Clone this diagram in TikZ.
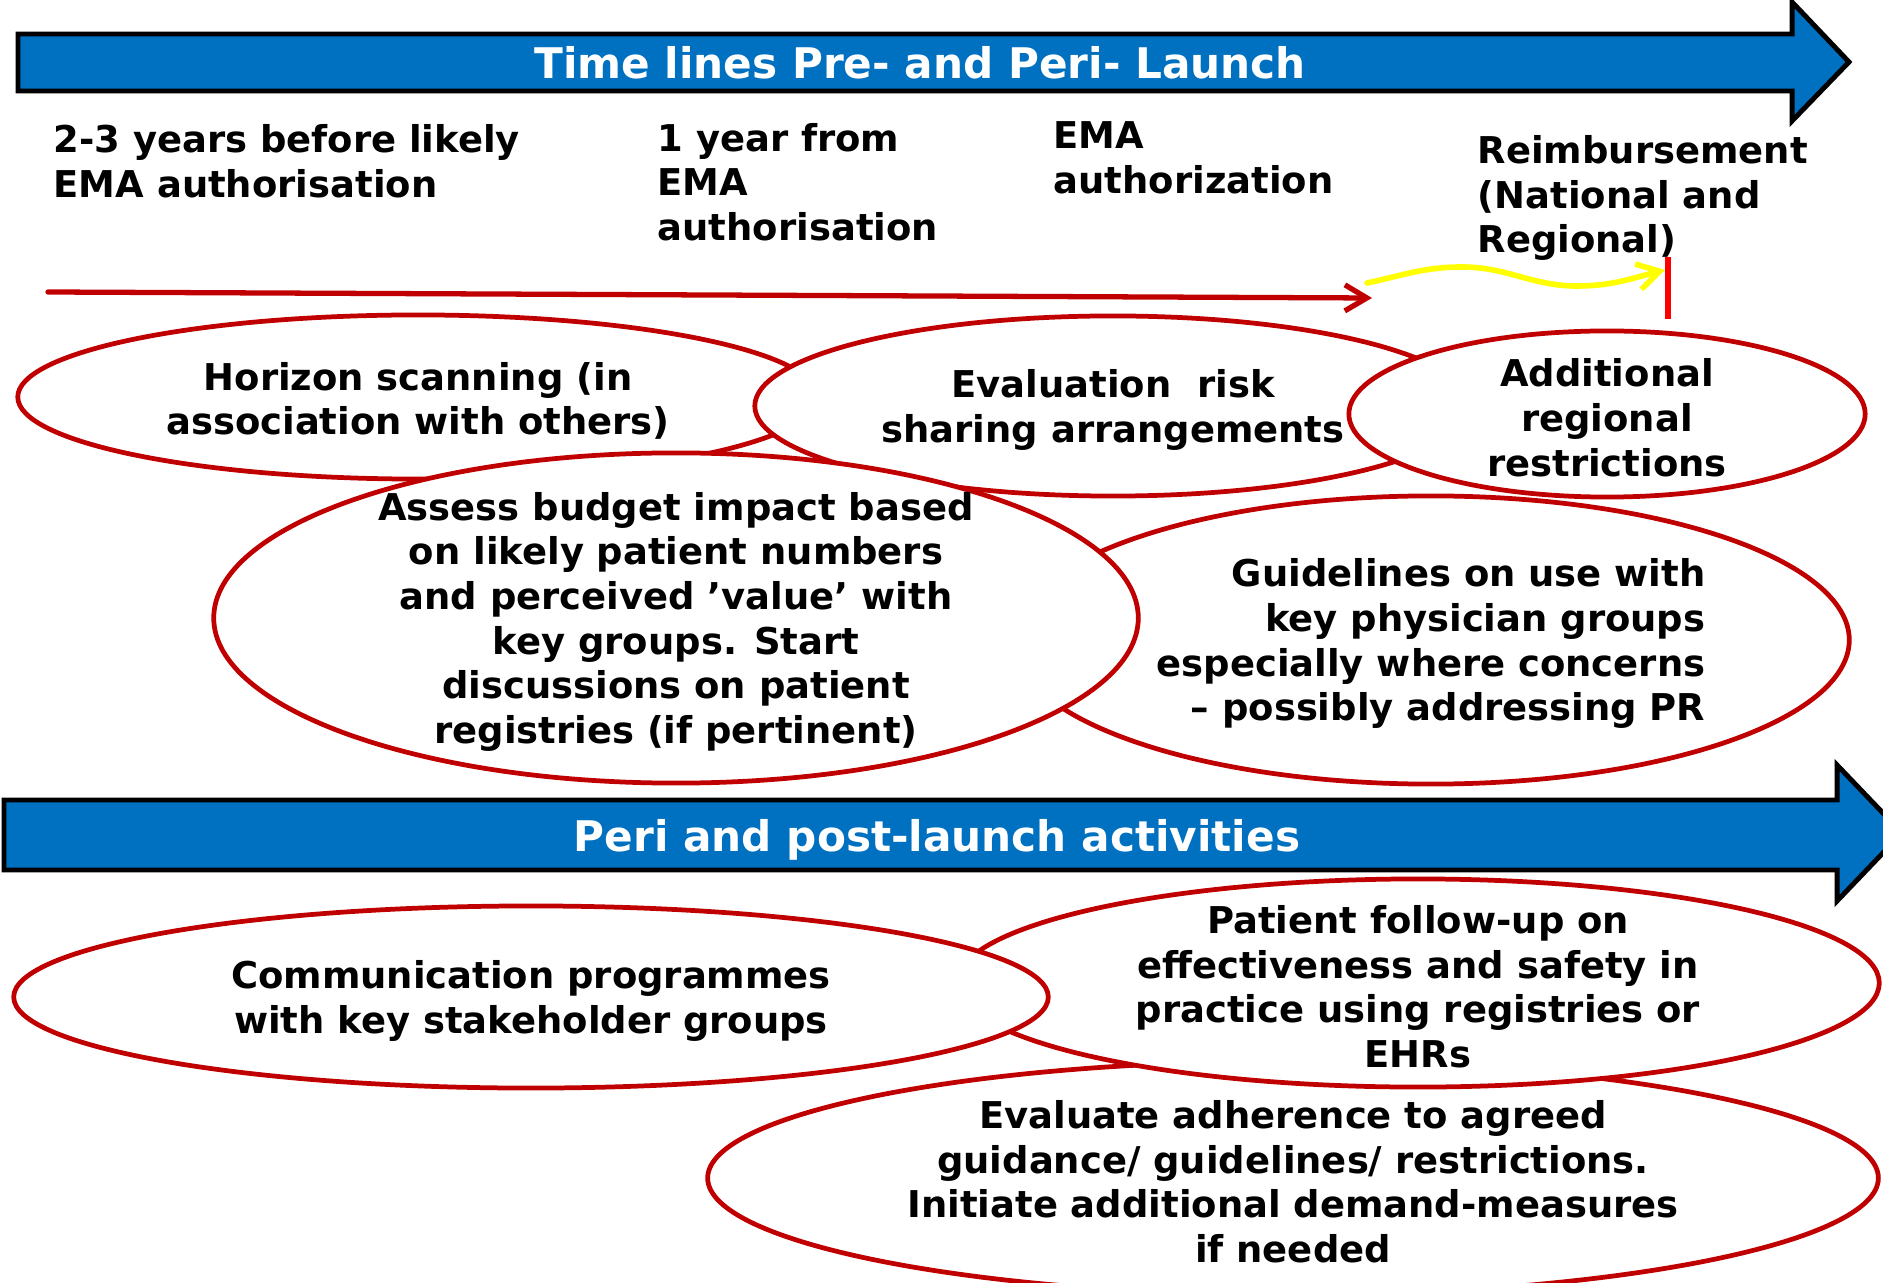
\documentclass[tikz,border=0pt]{standalone}
\usepackage{fontspec}
\setmainfont{DejaVu Sans}
\usetikzlibrary{shapes.geometric,arrows.meta}
\definecolor{darkred}{RGB}{192,0,0}
\definecolor{barblue}{RGB}{0,112,192}
\definecolor{markred}{RGB}{255,0,0}
\definecolor{waveyellow}{RGB}{255,255,0}
\tikzset{
  bubble/.style={ellipse, draw=darkred, line width=1.35pt, fill=white, inner sep=0pt},
  bubbletext/.style={align=center, inner sep=0pt, yshift=-1.1pt,
    font=\fontsize{10.5}{12.7}\selectfont\bfseries},
  datelabel/.style={anchor=west, align=left, inner sep=0pt,
    font=\fontsize{10.5}{12.7}\selectfont\bfseries},
  bartitle/.style={text=white, inner sep=0pt, font=\fontsize{12}{14}\selectfont\bfseries},
  banner/.style={fill=barblue, draw=black, line width=1.4pt, line join=miter},
  barb/.style={-{Straight Barb[length=0.22cm, width=0.26cm]}, line cap=round}
}
\begin{document}
\begin{tikzpicture}[x=0.01cm, y=-0.01cm]
    \path[use as bounding box, clip] (0,0) rectangle (1883,1283);

    % pre-launch banner
    \filldraw[banner] (18,34) -- (1792,34) -- (1792,2) -- (1849,62) -- (1792,121) -- (1792,91) -- (18,91) -- cycle;
    \node[bartitle] (pretitle) at (920,63) {Time lines Pre- and Peri- Launch};

    % milestones
    \node[datelabel] (twoyears) at (53,161) {2-3 years before likely\\EMA authorisation};
    \node[datelabel] (oneyear) at (657,182) {1 year from\\EMA\\authorisation};
    \node[datelabel] (emaauth) at (1053,158) {EMA\\authorization};
    \node[datelabel] (reimb) at (1477,198) {Reimbursement\\(National and\\Regional)};

    \coordinate (lineA) at (48,292);
    \coordinate (lineB) at (1372,298);
    \draw[darkred, line width=1.5pt, barb] (lineA) -- (lineB);
    \coordinate (waveA) at (1367,283);
    \coordinate (waveB) at (1665,270);
    \draw[waveyellow, line width=1.6pt, barb] (waveA) to[out=12,in=180] (1462,267)
        to[out=0,in=180] (1577,286) to[out=0,in=194] (waveB);
    \coordinate (markTop) at (1668,257);
    \coordinate (markBot) at (1668,319);
    \draw[markred, line width=1.8pt] (markTop) -- (markBot);

    % pre-launch activities
    \node[bubble, minimum width=8cm, minimum height=1.64cm,
        label={[bubbletext]center:Horizon scanning (in\\association with others)}] (horizon) at (418,397) {};
    \node[bubble, minimum width=7.16cm, minimum height=1.8cm,
        label={[bubbletext]center:Evaluation\ \ risk\\sharing arrangements}] (riskshare) at (1113,406) {};
    \node[bubble, minimum width=5.16cm, minimum height=1.66cm,
        label={[bubbletext]center:Additional\\regional\\restrictions}] (regional) at (1607,414) {};
    \node[bubble, minimum width=8.36cm, minimum height=2.88cm,
        label={[bubbletext, align=right]center:Guidelines on use with\\key physician groups\\especially where concerns\\– possibly addressing PR}] (guidelines) at (1431,640) {};
    \node[bubble, minimum width=9.24cm, minimum height=3.3cm,
        label={[bubbletext]center:Assess budget impact based\\on likely patient numbers\\and perceived ’value’ with\\key groups. Start\\discussions on patient\\registries (if pertinent)}] (budget) at (676,618) {};

    % post-launch banner
    \filldraw[banner] (4,800) -- (1837,800) -- (1837,765) -- (1902,833) -- (1837,901) -- (1837,870) -- (4,870) -- cycle;
    \node[bartitle] (posttitle) at (937,840) {Peri and post-launch activities};

    % post-launch activities
    \node[bubble, minimum width=11.7cm, minimum height=2.34cm,
        label={[bubbletext]center:Evaluate adherence to agreed\\guidance/ guidelines/ restrictions.\\Initiate additional demand-measures\\if needed}] (adherence) at (1293,1178) {};
    \node[bubble, minimum width=9.22cm, minimum height=2.08cm,
        label={[bubbletext]center:Patient follow-up on\\effectiveness and safety in\\practice using registries or\\EHRs}] (followup) at (1418,983) {};
    \node[bubble, minimum width=10.34cm, minimum height=1.82cm,
        label={[bubbletext]center:Communication programmes\\with key stakeholder groups}] (comms) at (531,997) {};
\end{tikzpicture}
\end{document}
